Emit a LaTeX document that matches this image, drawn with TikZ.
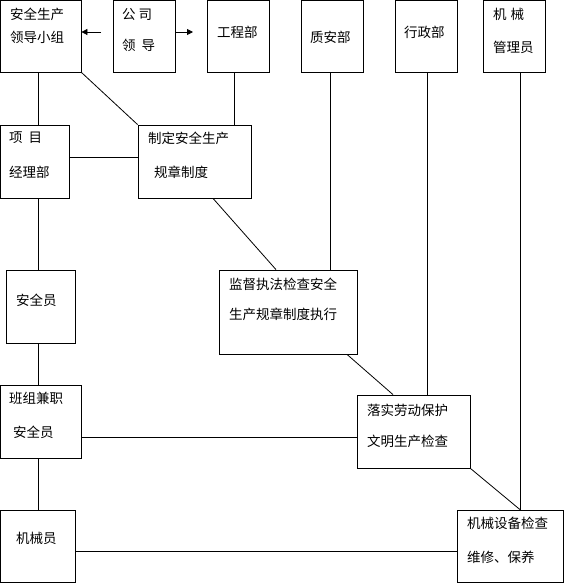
\documentclass[tikz,border=0pt]{standalone}
\usepackage{fontspec}
\setmainfont{Noto Sans CJK SC}
\usetikzlibrary{arrows.meta}
\begin{document}
\begin{tikzpicture}[x=1pt,y=-1pt,
  box/.style={draw,line width=0.8pt,inner sep=0pt,rectangle},
  txt/.style={anchor=west,inner sep=0pt,font=\fontsize{13.5pt}{14pt}\selectfont},
  conn/.style={line width=0.8pt},
  arr/.style={line width=0.8pt,-{Triangle[length=6pt,width=6pt]}}]
\useasboundingbox (0,0) rectangle (564,583);
% boxes
\node[box,minimum width=80.5pt,minimum height=72pt] (lead) at (40.75,36) {};
\node[box,minimum width=62pt,minimum height=72pt] (gs) at (144,36) {};
\node[box,minimum width=62pt,minimum height=72pt] (gcb) at (238,36) {};
\node[box,minimum width=62pt,minimum height=72pt] (zab) at (332,36) {};
\node[box,minimum width=62pt,minimum height=72pt] (xzb) at (426,36) {};
\node[box,minimum width=62pt,minimum height=72pt] (jxgl) at (514,36) {};
\node[box,minimum width=68.5pt,minimum height=73pt] (pm) at (34.75,161.5) {};
\node[box,minimum width=113pt,minimum height=73pt] (zd) at (194.5,161.5) {};
\node[box,minimum width=69pt,minimum height=73pt] (aqy) at (40.5,306.5) {};
\node[box,minimum width=138pt,minimum height=84pt] (jd) at (288,312) {};
\node[box,minimum width=80.5pt,minimum height=73pt] (bz) at (40.75,421.5) {};
\node[box,minimum width=113pt,minimum height=73pt] (ls) at (413.5,431.5) {};
\node[box,minimum width=74.5pt,minimum height=72pt] (jxy) at (37.75,546) {};
\node[box,minimum width=106pt,minimum height=72pt] (jxsb) at (510,546) {};
% texts
\node[txt] (t1) at (10,14) {安全生产};
\node[txt] (t2) at (10,37) {领导小组};
\node[txt] (t3) at (122,14) {公\hspace{3pt}司};
\node[txt] (t4) at (122,45) {领\hspace{6pt}导};
\node[txt] (t5) at (217,32) {工程部};
\node[txt] (t6) at (310,37) {质安部};
\node[txt] (t7) at (404,32) {行政部};
\node[txt] (t8) at (493,14) {机\hspace{4pt}械};
\node[txt] (t9) at (493,47) {管理员};
\node[txt] (t10) at (9,138) {项\hspace{6pt}目};
\node[txt] (t11) at (9,172) {经理部};
\node[txt] (t12) at (148,138) {制定安全生产};
\node[txt] (t13) at (154,172) {规章制度};
\node[txt] (t14) at (229,284) {监督执法检查安全};
\node[txt] (t15) at (229,314) {生产规章制度执行};
\node[txt] (t16) at (16,300) {安全员};
\node[txt] (t17) at (9,398) {班组兼职};
\node[txt] (t18) at (13,432) {安全员};
\node[txt] (t19) at (367,410) {落实劳动保护};
\node[txt] (t20) at (367,441) {文明生产检查};
\node[txt] (t21) at (16,538) {机械员};
\node[txt] (t22) at (467,523) {机械设备检查};
\node[txt] (t23) at (467,557) {维修、保养};
% helper coordinates
\coordinate (vxa) at (38,0);
\coordinate (vxb) at (234,0);
\coordinate (vxc) at (330,0);
\coordinate (vxd) at (427,0);
\coordinate (vxe) at (520,0);
\coordinate (dxa) at (213,0);
\coordinate (dxb) at (276,0);
\coordinate (dxc) at (347,0);
\coordinate (dxd) at (393,0);
\coordinate (hya) at (0,157);
\coordinate (hyb) at (0,437);
\coordinate (hyc) at (0,551);
\coordinate (ay) at (0,32);
\coordinate (aL) at (101,32);
\coordinate (aR) at (193,32);
% arrows
\draw[arr] (aL) -- (aL -| lead.east);
\draw[arr] (aR -| gs.east) -- (aR);
% connectors
\draw[conn] (lead.south -| vxa) -- (pm.north -| vxa);
\draw[conn] (lead.south east) -- (zd.north west);
\draw[conn] (gcb.south -| vxb) -- (zd.north -| vxb);
\draw[conn] (pm.east |- hya) -- (zd.west |- hya);
\draw[conn] (pm.south -| vxa) -- (aqy.north -| vxa);
\draw[conn] (zd.south -| dxa) -- (jd.north -| dxb);
\draw[conn] (zab.south -| vxc) -- (jd.north -| vxc);
\draw[conn] (jd.south -| dxc) -- (ls.north -| dxd);
\draw[conn] (xzb.south -| vxd) -- (ls.north -| vxd);
\draw[conn] (aqy.south -| vxa) -- (bz.north -| vxa);
\draw[conn] (bz.east |- hyb) -- (ls.west |- hyb);
\draw[conn] (bz.south -| vxa) -- (jxy.north -| vxa);
\draw[conn] (jxgl.south -| vxe) -- (jxsb.north -| vxe);
\draw[conn] (ls.south east) -- (jxsb.north -| vxe);
\draw[conn] (jxy.east |- hyc) -- (jxsb.west |- hyc);
\end{tikzpicture}
\end{document}
